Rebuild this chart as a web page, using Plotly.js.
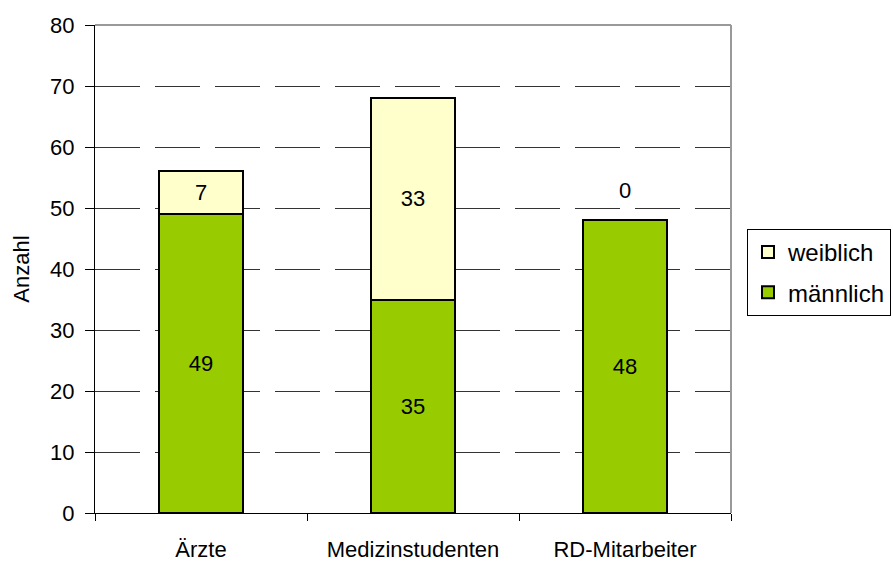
<!DOCTYPE html>
<html>
<head>
<meta charset="utf-8">
<script src="https://cdn.plot.ly/plotly-3.0.1.min.js"></script>
<style>html,body{margin:0;padding:0;background:#fff;}#chart{width:893px;height:562px;}</style>
</head>
<body>
<div id="chart"></div>
<script>
var categories = ["Ärzte", "Medizinstudenten", "RD-Mitarbeiter"];
var maennlich = [49, 35, 48];
var weiblich = [7, 33, 0];
var yTicks = [0, 10, 20, 30, 40, 50, 60, 70, 80];

var FONT = "Liberation Sans, Arial, sans-serif";

var traces = [
  {
    type: "bar", name: "männlich", x: categories, y: maennlich,
    legendgroup: "m", legendrank: 2,
    marker: {color: "#99CC00", line: {color: "#000000", width: 2}},
    text: maennlich.map(String), textposition: "inside", insidetextanchor: "middle",
    textangle: 0, constraintext: "none",
    textfont: {family: FONT, size: 22, color: "#000"}, hoverinfo: "x+y+name"
  },
  {
    type: "bar", name: "weiblich", x: categories, y: weiblich,
    legendgroup: "w", legendrank: 1,
    marker: {color: "#FFFFCC", line: {color: "#000000", width: 2}},
    text: weiblich.map(function (v) { return v === 0 ? "" : String(v); }),
    textposition: "inside", insidetextanchor: "middle",
    textangle: 0, constraintext: "none",
    textfont: {family: FONT, size: 22, color: "#000"}, hoverinfo: "x+y+name"
  }
];

var annotations = [];
for (var i = 0; i < categories.length; i++) {
  if (weiblich[i] === 0) {
    annotations.push({
      x: categories[i], y: maennlich[i] + weiblich[i], xref: "x", yref: "y",
      text: String(weiblich[i]), showarrow: false, yshift: 30,
      font: {family: FONT, size: 22, color: "#000"}
    });
  }
}

var layout = {
  width: 893, height: 562,
  margin: {l: 95, r: 162, t: 25, b: 49, autoexpand: false},
  paper_bgcolor: "#fff", plot_bgcolor: "#fff",
  barmode: "stack", bargap: 0.6,
  font: {family: FONT, size: 22, color: "#000"},
  xaxis: {
    type: "category", tickson: "boundaries", ticks: "outside", ticklen: 7,
    tickcolor: "#000", tickwidth: 1, showline: true, linecolor: "#000", linewidth: 1,
    showgrid: false, tickfont: {family: FONT, size: 22, color: "#000"},
    ticklabelstandoff: 17, fixedrange: true, automargin: false
  },
  yaxis: {
    range: [0, 80], tickvals: yTicks, ticktext: yTicks.map(String),
    ticks: "outside", ticklen: 9, tickcolor: "#000", tickwidth: 1,
    showline: true, linecolor: "#000", linewidth: 1,
    showgrid: true, gridcolor: "#333", gridwidth: 1, griddash: "45px,15px",
    zeroline: false, tickfont: {family: FONT, size: 22, color: "#000"},
    ticklabelstandoff: 6, automargin: false,
    title: {text: "Anzahl", font: {family: FONT, size: 22, color: "#000"}, standoff: 14},
    fixedrange: true
  },
  showlegend: true,
  legend: {
    xref: "container", yref: "container",
    x: 747 / 893, y: 1 - 229 / 562, xanchor: "left", yanchor: "top",
    traceorder: "grouped", bordercolor: "#000", borderwidth: 1,
    bgcolor: "#fff", font: {family: FONT, size: 24, color: "#000"},
    itemwidth: 30, tracegroupgap: 6
  },
  shapes: [
    {type: "line", xref: "paper", yref: "paper", x0: 0, x1: 1, y0: 1, y1: 1,
     line: {color: "#999", width: 2}},
    {type: "line", xref: "paper", yref: "paper", x0: 1, x1: 1, y0: 0, y1: 1,
     line: {color: "#999", width: 2}}
  ],
  annotations: annotations
};

Plotly.newPlot("chart", traces, layout, {displayModeBar: false, staticPlot: true});
</script>
</body>
</html>
